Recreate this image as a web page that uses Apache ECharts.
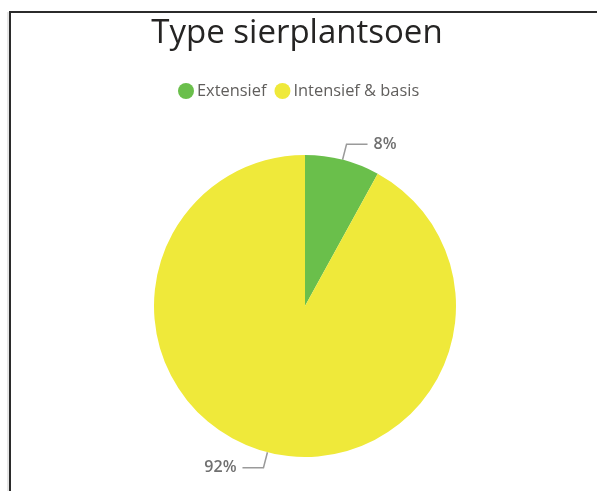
<!DOCTYPE html>
<html>
<head>
<meta charset="utf-8">
<script src="https://cdn.jsdelivr.net/npm/echarts@6/dist/echarts.min.js"></script>
<style>
  html, body { margin: 0; padding: 0; background: #fff; }
  #frame { position: absolute; left: 9px; top: 11px; width: 700px; height: 600px;
           border-left: 2px solid #2b2b2b; border-top: 2px solid #2b2b2b; box-sizing: border-box; }
  #shadow { position: absolute; left: 7px; top: 12px; width: 2px; height: 600px; background: #e6e6e6; }
  #chart { position: absolute; left: 0; top: 0; width: 597px; height: 491px; }
</style>
</head>
<body>
<div id="shadow"></div>
<div id="frame"></div>
<div id="chart"></div>
<script>
const titleText = "Type sierplantsoen";
const categories = ["Extensief", "Intensief & basis"];
const values = [8, 92];
const colors = ["#6abf4b", "#efe93a"];

const chart = echarts.init(document.getElementById('chart'), null, { renderer: 'canvas' });
const fontFamily = '"Segoe UI", "Open Sans", "Noto Sans", sans-serif';

chart.setOption({
  backgroundColor: 'transparent',
  animation: false,
  title: {
    text: titleText,
    left: 292,
    textAlign: 'center',
    top: 12,
    textStyle: { fontFamily: fontFamily, fontSize: 33, fontWeight: 'normal', color: '#252423' }
  },
  legend: {
    data: categories,
    left: 173,
    top: 78,
    icon: 'circle',
    itemWidth: 16,
    itemHeight: 16,
    itemGap: 8,
    textStyle: { fontFamily: fontFamily, fontSize: 16.4, color: '#605e5c', padding: [0, 0, 0, -2] }
  },
  series: [{
    type: 'pie',
    center: [305, 306],
    radius: 151,
    startAngle: 90,
    clockwise: true,
    data: categories.map((c, i) => ({ name: c, value: values[i], itemStyle: { color: colors[i] } })),
    label: {
      show: true,
      position: 'outside',
      formatter: '{d}%',
      fontFamily: fontFamily,
      fontSize: 16,
      fontWeight: 600,
      color: '#707070',
      distanceToLabelLine: 6
    },
    labelLine: {
      show: true,
      length: 16,
      length2: 21,
      smooth: false,
      lineStyle: { color: '#9a9a9a', width: 1.5 }
    },
    emphasis: { disabled: true }
  }]
});
</script>
</body>
</html>
